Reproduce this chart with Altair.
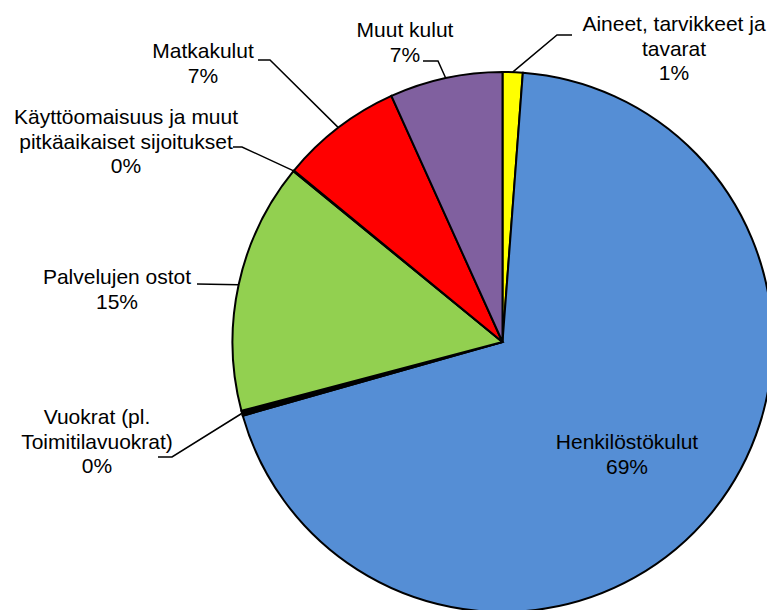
import math
import altair as alt
import pandas as pd

# ---- data ----
categories = [
    "Aineet, tarvikkeet ja tavarat",
    "Henkilöstökulut",
    "Vuokrat (pl. Toimitilavuokrat)",
    "Palvelujen ostot",
    "Käyttöomaisuus ja muut pitkäaikaiset sijoitukset",
    "Matkakulut",
    "Muut kulut",
]
values = [1.2, 69.4, 0.3, 15.0, 0.05, 7.3, 6.75]
label_lines = [
    ["Aineet, tarvikkeet ja", "tavarat"],
    ["Henkilöstökulut"],
    ["Vuokrat (pl.", "Toimitilavuokrat)"],
    ["Palvelujen ostot"],
    ["Käyttöomaisuus ja muut", "pitkäaikaiset sijoitukset"],
    ["Matkakulut"],
    ["Muut kulut"],
]
colors = ["#FFFF00", "#558ED5", "#000000", "#92D050", "#F79646", "#FF0000", "#80609F"]

# ---- layout (page pixels, converted to chart pixels below) ----
MARGIN = 8
CX, CY, R = 502.5 - MARGIN, 342 - MARGIN, 270
label_pos = [(674, 25), (627, 443), (97, 418), (117, 278), (126, 118), (203, 52), (405, 31)]
leader_pts = [
    [(572, 35), (557, 35)],
    None,
    [(158, 457), (172, 457)],
    [(197, 284)],
    [(233, 147), (242, 147)],
    [(258, 60), (270, 60)],
    [(423, 61), (438, 61)],
]

total = sum(values)
df = pd.DataFrame({"cat": categories, "value": values, "idx": list(range(len(values)))})

lab_rows, line_rows = [], []
cum = 0.0
for i, (c, v) in enumerate(zip(categories, values)):
    pct = f"{round(v / total * 100):d}%"
    txt = "\n".join(label_lines[i] + [pct])
    lx, ly = label_pos[i]
    lab_rows.append({"cat": c, "txt": txt, "lx": lx - MARGIN, "ly": ly - MARGIN})
    mid = (cum + v / 2) / total * 2 * math.pi
    cum += v
    if leader_pts[i]:
        pts = [(x - MARGIN, y - MARGIN) for x, y in leader_pts[i]]
        pts.append((CX + R * math.sin(mid), CY - R * math.cos(mid)))
        for k, (px, py) in enumerate(pts):
            line_rows.append({"cat": c, "k": k, "px": px, "py": py})

lab_df = pd.DataFrame(lab_rows)
line_df = pd.DataFrame(line_rows)

pie = alt.Chart(df).mark_arc(radius=R, stroke="black", strokeWidth=2).encode(
    theta=alt.Theta("value:Q", stack=True),
    order=alt.Order("idx:Q"),
    color=alt.Color("cat:N", scale=alt.Scale(domain=categories, range=colors), legend=None),
    x=alt.value(CX),
    y=alt.value(CY),
)

leaders = alt.Chart(line_df).mark_line(color="black", strokeWidth=1.5).encode(
    x=alt.X("px:Q", scale=None, axis=None),
    y=alt.Y("py:Q", scale=None, axis=None),
    detail="cat:N",
    order="k:Q",
)

labels = alt.Chart(lab_df).mark_text(
    fontSize=21, font="Liberation Sans", lineBreak="\n", lineHeight=24.5,
    baseline="middle", align="center", color="black",
).encode(
    x=alt.X("lx:Q", scale=None, axis=None),
    y=alt.Y("ly:Q", scale=None, axis=None),
    text="txt:N",
)

chart = alt.layer(pie, leaders, labels).properties(
    width=759, height=602, padding=0, autosize="none"
).configure_view(stroke=None)

chart.save("out.html", embed_options={"renderer": "svg", "actions": False})
